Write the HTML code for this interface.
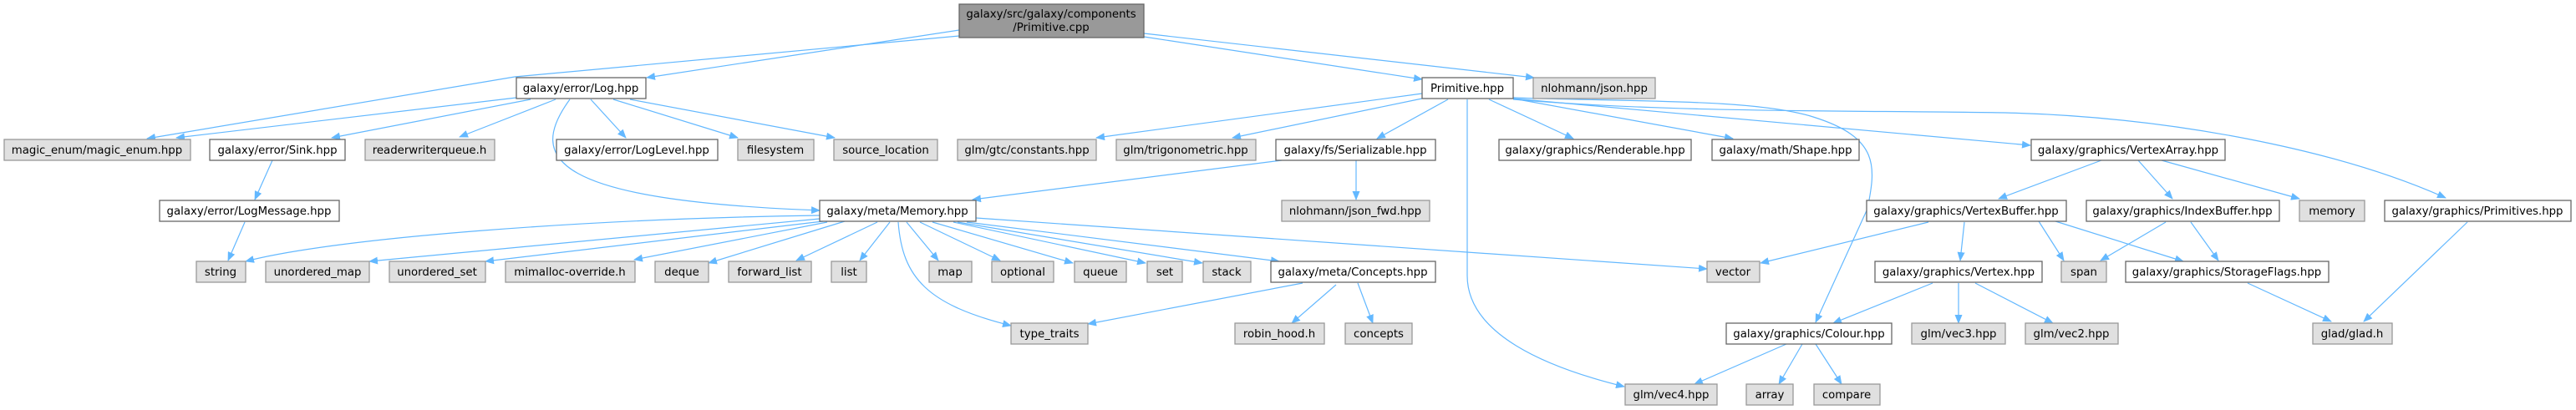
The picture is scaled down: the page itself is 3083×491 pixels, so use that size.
<!DOCTYPE html>
<html><head><meta charset="utf-8"><style>
html,body{margin:0;padding:0;background:#fff;}
svg{display:block;}
text{font-family:"DejaVu Sans","Liberation Sans",sans-serif;font-size:13.3px;fill:#000;}
.e{fill:none;stroke:#63b8ff;stroke-width:1.2;marker-end:url(#a);}
.w{fill:#fff;stroke:#666;stroke-width:1.3;}
.g{fill:#e0e0e0;stroke:#999;stroke-width:1.3;}
.r{fill:#999;stroke:#666;stroke-width:1.3;}
</style></head><body>
<svg width="3083" height="491" viewBox="0 0 3083 491" xmlns="http://www.w3.org/2000/svg">
<defs><marker id="a" markerWidth="11" markerHeight="9" refX="10" refY="4.5" orient="auto" markerUnits="userSpaceOnUse"><path d="M0,0 L11,4.5 L0,9 z" fill="#63b8ff"/></marker></defs>
<!-- edges -->
<path class="e" d="M1148,36 L774,93"/>
<path class="e" d="M1148,43 L616,92 L176,166"/>
<path class="e" d="M1369,44 L1702,95"/>
<path class="e" d="M1369,40 L1836,93"/>
<path class="e" d="M618,117 L211,165"/>
<path class="e" d="M635,119 L397,165"/>
<path class="e" d="M665,119 L550,164"/>
<path class="e" d="M707,119 L749,165"/>
<path class="e" d="M734,119 L883,165"/>
<path class="e" d="M754,119 L999,165"/>
<path class="e" d="M682,119 C630,190 660,240 981,252"/>
<path class="e" d="M326,192 L305,239"/>
<path class="e" d="M293,266 L273,312"/>
<path class="e" d="M981,258 C700,262 400,285 294,313"/>
<path class="e" d="M981,262 L442,313"/>
<path class="e" d="M985,265 L581,313"/>
<path class="e" d="M990,266 L759,311"/>
<path class="e" d="M1011,265 L848,315"/>
<path class="e" d="M1050,266 L953,312"/>
<path class="e" d="M1065,266 L1029,312"/>
<path class="e" d="M1085,266 L1123,312"/>
<path class="e" d="M1101,266 L1197,312"/>
<path class="e" d="M1116,266 L1284,315"/>
<path class="e" d="M1141,266 L1371,315"/>
<path class="e" d="M1146,266 L1439,315"/>
<path class="e" d="M1157,266 L1531,313"/>
<path class="e" d="M1168,261 L2043,322"/>
<path class="e" d="M1075,266 C1080,333 1110,365 1210,390"/>
<path class="e" d="M1534,192 L1164,239"/>
<path class="e" d="M1623,192 L1623,239"/>
<path class="e" d="M1559,339 L1302,388"/>
<path class="e" d="M1599,341 L1546,387"/>
<path class="e" d="M1625,339 L1643,387"/>
<path class="e" d="M1702,112 L1312,165"/>
<path class="e" d="M1702,118 L1475,165"/>
<path class="e" d="M1733,119 L1648,166"/>
<path class="e" d="M1782,119 L1883,166"/>
<path class="e" d="M1811,118 L2074,166"/>
<path class="e" d="M1811,118 L2430,174"/>
<path class="e" d="M1811,119 C2000,135 2200,132 2400,135 C2600,140 2800,180 2927,237"/>
<path class="e" d="M1811,117 C1950,122 2100,118 2170,140 C2250,165 2245,200 2235,250 L2173,386"/>
<path class="e" d="M1756,119 L1756,330 C1756,400 1850,440 1944,463"/>
<path class="e" d="M2515,192 L2392,238"/>
<path class="e" d="M2559,192 L2600,238"/>
<path class="e" d="M2587,192 L2752,238"/>
<path class="e" d="M2308,266 L2107,315"/>
<path class="e" d="M2351,266 L2346,312"/>
<path class="e" d="M2440,265 L2470,312"/>
<path class="e" d="M2460,265 L2613,313"/>
<path class="e" d="M2592,266 L2514,312"/>
<path class="e" d="M2622,266 L2655,312"/>
<path class="e" d="M2953,266 L2829,385"/>
<path class="e" d="M2690,339 L2790,385"/>
<path class="e" d="M2313,339 L2194,387"/>
<path class="e" d="M2344,339 L2344,387"/>
<path class="e" d="M2364,339 L2457,387"/>
<path class="e" d="M2138,412 L2028,460"/>
<path class="e" d="M2157,412 L2129,460"/>
<path class="e" d="M2173,412 L2204,460"/>
<!-- nodes -->
<rect class="r" x="1148" y="5" width="221" height="40"/>
<text x="1258" y="21" text-anchor="middle">galaxy/src/galaxy/components</text>
<text x="1258" y="37" text-anchor="middle">/Primitive.cpp</text>

<rect class="w" x="618" y="93" width="155" height="25"/><text x="695" y="110" text-anchor="middle">galaxy/error/Log.hpp</text>
<rect class="w" x="1702" y="93" width="109" height="25"/><text x="1756" y="110" text-anchor="middle">Primitive.hpp</text>
<rect class="g" x="1835" y="93" width="146" height="25"/><text x="1908" y="110" text-anchor="middle">nlohmann/json.hpp</text>

<rect class="g" x="5" y="167" width="223" height="25"/><text x="116" y="184" text-anchor="middle">magic_enum/magic_enum.hpp</text>
<rect class="w" x="251" y="167" width="162" height="25"/><text x="332" y="184" text-anchor="middle">galaxy/error/Sink.hpp</text>
<rect class="g" x="437" y="167" width="155" height="25"/><text x="514" y="184" text-anchor="middle">readerwriterqueue.h</text>
<rect class="w" x="666" y="167" width="193" height="25"/><text x="762" y="184" text-anchor="middle">galaxy/error/LogLevel.hpp</text>
<rect class="g" x="883" y="167" width="91" height="25"/><text x="928" y="184" text-anchor="middle">filesystem</text>
<rect class="g" x="998" y="167" width="124" height="25"/><text x="1060" y="184" text-anchor="middle">source_location</text>
<rect class="g" x="1146" y="167" width="166" height="25"/><text x="1229" y="184" text-anchor="middle">glm/gtc/constants.hpp</text>
<rect class="g" x="1336" y="167" width="167" height="25"/><text x="1419" y="184" text-anchor="middle">glm/trigonometric.hpp</text>
<rect class="w" x="1527" y="167" width="191" height="25"/><text x="1622" y="184" text-anchor="middle">galaxy/fs/Serializable.hpp</text>
<rect class="w" x="1794" y="167" width="230" height="25"/><text x="1909" y="184" text-anchor="middle">galaxy/graphics/Renderable.hpp</text>
<rect class="w" x="2049" y="167" width="176" height="25"/><text x="2137" y="184" text-anchor="middle">galaxy/math/Shape.hpp</text>
<rect class="w" x="2431" y="167" width="232" height="25"/><text x="2547" y="184" text-anchor="middle">galaxy/graphics/VertexArray.hpp</text>

<rect class="w" x="191" y="240" width="215" height="25"/><text x="298" y="257" text-anchor="middle">galaxy/error/LogMessage.hpp</text>
<rect class="w" x="981" y="240" width="187" height="25"/><text x="1074" y="257" text-anchor="middle">galaxy/meta/Memory.hpp</text>
<rect class="g" x="1534" y="240" width="177" height="25"/><text x="1622" y="257" text-anchor="middle">nlohmann/json_fwd.hpp</text>
<rect class="w" x="2234" y="240" width="239" height="25"/><text x="2353" y="257" text-anchor="middle">galaxy/graphics/VertexBuffer.hpp</text>
<rect class="w" x="2497" y="240" width="231" height="25"/><text x="2612" y="257" text-anchor="middle">galaxy/graphics/IndexBuffer.hpp</text>
<rect class="g" x="2752" y="240" width="78" height="25"/><text x="2791" y="257" text-anchor="middle">memory</text>
<rect class="w" x="2854" y="240" width="223" height="25"/><text x="2965" y="257" text-anchor="middle">galaxy/graphics/Primitives.hpp</text>

<rect class="g" x="235" y="313" width="59" height="25"/><text x="264" y="330" text-anchor="middle">string</text>
<rect class="g" x="318" y="313" width="124" height="25"/><text x="380" y="330" text-anchor="middle">unordered_map</text>
<rect class="g" x="466" y="313" width="115" height="25"/><text x="523" y="330" text-anchor="middle">unordered_set</text>
<rect class="g" x="605" y="313" width="155" height="25"/><text x="682" y="330" text-anchor="middle">mimalloc-override.h</text>
<rect class="g" x="784" y="313" width="64" height="25"/><text x="816" y="330" text-anchor="middle">deque</text>
<rect class="g" x="872" y="313" width="99" height="25"/><text x="921" y="330" text-anchor="middle">forward_list</text>
<rect class="g" x="995" y="313" width="42" height="25"/><text x="1016" y="330" text-anchor="middle">list</text>
<rect class="g" x="1112" y="313" width="51" height="25"/><text x="1137" y="330" text-anchor="middle">map</text>
<rect class="g" x="1187" y="313" width="74" height="25"/><text x="1224" y="330" text-anchor="middle">optional</text>
<rect class="g" x="1286" y="313" width="62" height="25"/><text x="1317" y="330" text-anchor="middle">queue</text>
<rect class="g" x="1373" y="313" width="42" height="25"/><text x="1394" y="330" text-anchor="middle">set</text>
<rect class="g" x="1440" y="313" width="57" height="25"/><text x="1468" y="330" text-anchor="middle">stack</text>
<rect class="w" x="1521" y="313" width="197" height="25"/><text x="1619" y="330" text-anchor="middle">galaxy/meta/Concepts.hpp</text>
<rect class="g" x="2043" y="313" width="63" height="25"/><text x="2074" y="330" text-anchor="middle">vector</text>
<rect class="w" x="2244" y="313" width="200" height="25"/><text x="2344" y="330" text-anchor="middle">galaxy/graphics/Vertex.hpp</text>
<rect class="g" x="2467" y="313" width="54" height="25"/><text x="2494" y="330" text-anchor="middle">span</text>
<rect class="w" x="2544" y="313" width="243" height="25"/><text x="2665" y="330" text-anchor="middle">galaxy/graphics/StorageFlags.hpp</text>

<rect class="g" x="1210" y="387" width="92" height="25"/><text x="1256" y="404" text-anchor="middle">type_traits</text>
<rect class="g" x="1478" y="387" width="107" height="25"/><text x="1531" y="404" text-anchor="middle">robin_hood.h</text>
<rect class="g" x="1610" y="387" width="80" height="25"/><text x="1650" y="404" text-anchor="middle">concepts</text>
<rect class="w" x="2066" y="387" width="198" height="25"/><text x="2165" y="404" text-anchor="middle">galaxy/graphics/Colour.hpp</text>
<rect class="g" x="2288" y="387" width="112" height="25"/><text x="2344" y="404" text-anchor="middle">glm/vec3.hpp</text>
<rect class="g" x="2424" y="387" width="111" height="25"/><text x="2479" y="404" text-anchor="middle">glm/vec2.hpp</text>
<rect class="g" x="2768" y="387" width="95" height="25"/><text x="2815" y="404" text-anchor="middle">glad/glad.h</text>

<rect class="g" x="1945" y="460" width="110" height="25"/><text x="2000" y="477" text-anchor="middle">glm/vec4.hpp</text>
<rect class="g" x="2090" y="460" width="56" height="25"/><text x="2118" y="477" text-anchor="middle">array</text>
<rect class="g" x="2171" y="460" width="79" height="25"/><text x="2210" y="477" text-anchor="middle">compare</text>
</svg>
</body></html>
